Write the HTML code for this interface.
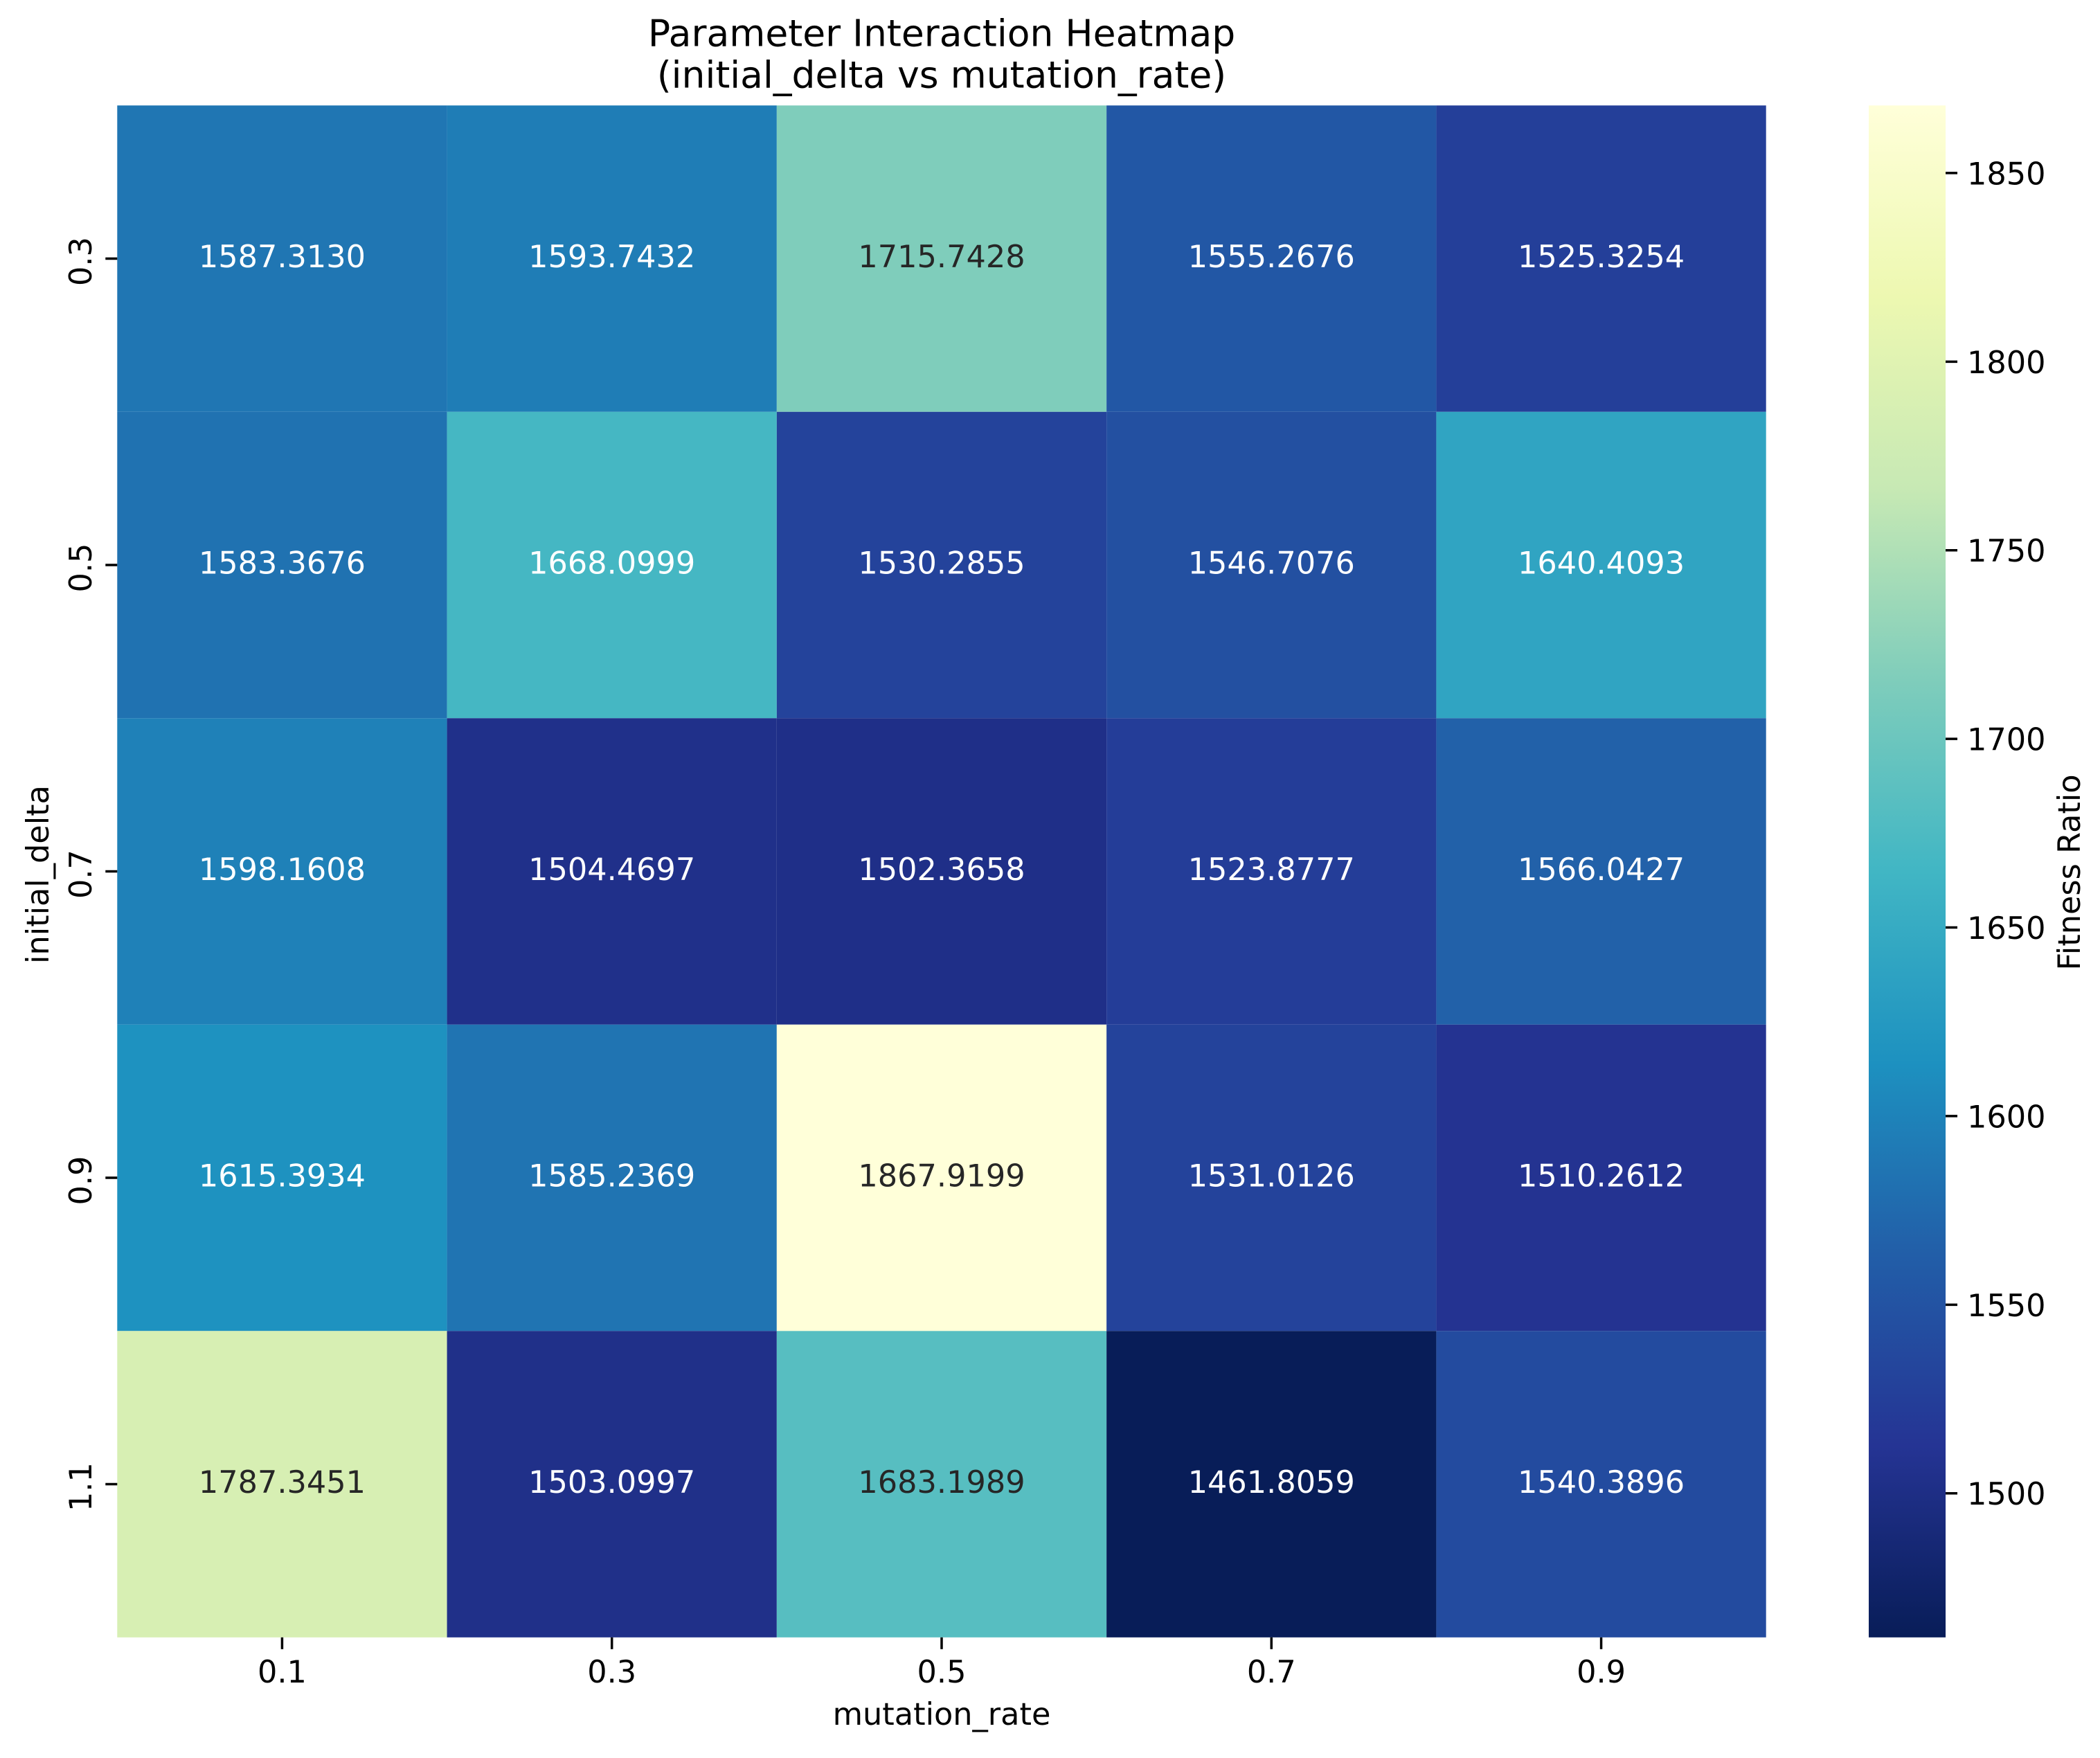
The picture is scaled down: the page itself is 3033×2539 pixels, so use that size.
<!DOCTYPE html>
<html lang="en">
<head>
<meta charset="utf-8">
<title>Parameter Interaction Heatmap</title>
<style>
  html, body { margin: 0; padding: 0; background: #fff; }
  svg { display: block; }
  text { font-family: "DejaVu Sans", "Liberation Sans", sans-serif; fill: #000; }
</style>
</head>
<body>
<svg id="chart" xmlns="http://www.w3.org/2000/svg" width="3033" height="2539" viewBox="0 0 3033 2539">
  <defs>
    <linearGradient id="cbar-gradient" x1="0" y1="1" x2="0" y2="0"></linearGradient>
  </defs>
  <rect x="0" y="0" width="3033" height="2539" fill="#ffffff"></rect>
  <text x="1360" y="66.5" text-anchor="middle" font-size="53.5">Parameter Interaction Heatmap</text>
  <text x="1360" y="126.5" text-anchor="middle" font-size="53.5">(initial_delta vs mutation_rate)</text>
  <text x="1360" y="2491" text-anchor="middle" font-size="44.6">mutation_rate</text>
  <text transform="translate(70,1263) rotate(-90)" text-anchor="middle" font-size="44.6">initial_delta</text>
  <text transform="translate(3004,1260) rotate(-90)" text-anchor="middle" font-size="44.6">Fitness Ratio</text>
  <g id="cells"></g>
  <g id="annotations"></g>
  <g id="x-axis"></g>
  <g id="y-axis"></g>
  <g id="colorbar"></g>
</svg>
<script>
var xCategories = ["0.1", "0.3", "0.5", "0.7", "0.9"];
var yCategories = ["0.3", "0.5", "0.7", "0.9", "1.1"];
var row03 = [1587.3130, 1593.7432, 1715.7428, 1555.2676, 1525.3254];
var row05 = [1583.3676, 1668.0999, 1530.2855, 1546.7076, 1640.4093];
var row07 = [1598.1608, 1504.4697, 1502.3658, 1523.8777, 1566.0427];
var row09 = [1615.3934, 1585.2369, 1867.9199, 1531.0126, 1510.2612];
var row11 = [1787.3451, 1503.0997, 1683.1989, 1461.8059, 1540.3896];
var colorbarTicks = [1500, 1550, 1600, 1650, 1700, 1750, 1800, 1850];

var rows = [row03, row05, row07, row09, row11];
var NS = "http://www.w3.org/2000/svg";
var plot = { left: 169.3, right: 2550.7, top: 152.3, bottom: 2364.8 };
var bar = { left: 2699, right: 2810 };
var palette = [[8,29,88],[37,52,148],[34,94,168],[29,145,192],[65,182,196],[127,205,187],[199,233,180],[237,248,177],[255,255,217]];

var allValues = rows.reduce(function (a, r) { return a.concat(r); }, []);
var vmin = Math.min.apply(null, allValues);
var vmax = Math.max.apply(null, allValues);

function norm(v) { return (v - vmin) / (vmax - vmin); }
function colorAt(t) {
  t = Math.max(0, Math.min(1, t));
  var p = t * (palette.length - 1);
  var i = Math.min(Math.floor(p), palette.length - 2);
  var f = p - i;
  return [0, 1, 2].map(function (k) { return palette[i][k] + (palette[i + 1][k] - palette[i][k]) * f; });
}
function rgb(c) { return "rgb(" + c.map(Math.round).join(",") + ")"; }
function luminance(c) {
  var l = c.map(function (x) {
    var s = x / 255;
    return s <= 0.03928 ? s / 12.92 : Math.pow((s + 0.055) / 1.055, 2.4);
  });
  return 0.2126 * l[0] + 0.7152 * l[1] + 0.0722 * l[2];
}
function xBand(c) { return (plot.right - plot.left) / xCategories.length; }
function yBand(r) { return (plot.bottom - plot.top) / yCategories.length; }
function xPos(c) { return plot.left + c * xBand(); }
function yPos(r) { return plot.top + r * yBand(); }
function barY(v) { return plot.bottom - norm(v) * (plot.bottom - plot.top); }

function make(tag, attrs, parent, content) {
  var el = document.createElementNS(NS, tag);
  for (var k in attrs) el.setAttribute(k, attrs[k]);
  if (content !== undefined) el.textContent = content;
  parent.appendChild(el);
  return el;
}

var cellsG = document.getElementById("cells");
var annG = document.getElementById("annotations");
var xG = document.getElementById("x-axis");
var yG = document.getElementById("y-axis");
var cbG = document.getElementById("colorbar");

rows.forEach(function (row, r) {
  row.forEach(function (v, c) {
    var col = colorAt(norm(v));
    var rect = make("rect", { x: xPos(c), y: yPos(r), width: xBand(), height: yBand(), fill: rgb(col) }, cellsG);
    
    
    var label = make("text", {
      x: xPos(c) + xBand() / 2,
      y: yPos(r) + yBand() / 2 + 12.5,
      "text-anchor": "middle",
      "font-size": 44.6,
      style: "fill:" + (luminance(col) > 0.408 ? "#262626" : "#ffffff")
    }, annG, v.toFixed(4));
    
    
  });
});

xCategories.forEach(function (name, c) {
  var cx = xPos(c) + xBand() / 2;
  var tick = make("line", { x1: cx, x2: cx, y1: plot.bottom, y2: plot.bottom + 17, stroke: "#000", "stroke-width": 3.5 }, xG);
  
  
  var label = make("text", { x: cx, y: 2430, "text-anchor": "middle", "font-size": 44.6 }, xG, name);
  
  
});

yCategories.forEach(function (name, r) {
  var cy = yPos(r) + yBand() / 2;
  var tick = make("line", { x1: plot.left - 17, x2: plot.left, y1: cy, y2: cy, stroke: "#000", "stroke-width": 3.5 }, yG);
  
  
  var label = make("text", { transform: "translate(132," + (cy + 4) + ") rotate(-90)", "text-anchor": "middle", "font-size": 44.6 }, yG, name);
  
  
});

var grad = document.getElementById("cbar-gradient");
palette.forEach(function (c, i) {
  make("stop", { offset: i / (palette.length - 1), "stop-color": rgb(c) }, grad);
});
var barRect = make("rect", { x: bar.left, y: plot.top, width: bar.right - bar.left, height: plot.bottom - plot.top, fill: "url(#cbar-gradient)" }, cbG);



colorbarTicks.forEach(function (v) {
  var y = barY(v);
  var tick = make("line", { x1: bar.right, x2: bar.right + 17, y1: y, y2: y, stroke: "#000", "stroke-width": 3.5 }, cbG);
  
  
  var label = make("text", { x: 2841, y: y + 16.5, "font-size": 44.6 }, cbG, String(v));
  
  
});
</script>
</body>
</html>
